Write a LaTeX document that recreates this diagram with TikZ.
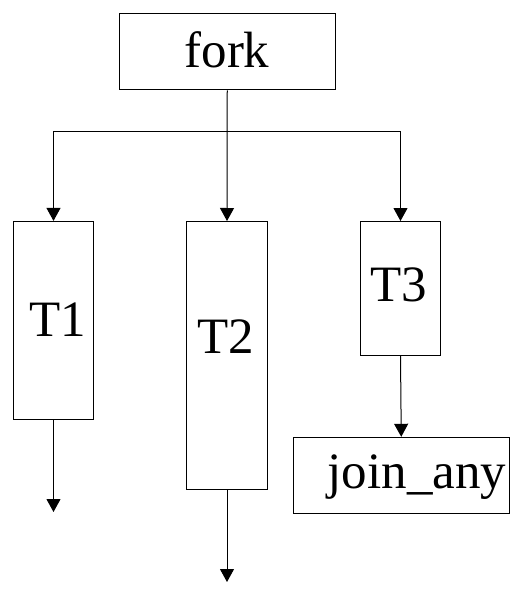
\documentclass[tikz,border=0pt]{standalone}
\usepackage{fontspec}
\setmainfont{Liberation Serif}
\usetikzlibrary{arrows.meta}
\begin{document}
\begin{tikzpicture}[x=1pt,y=-1pt,
  box/.style={draw, line width=1pt, inner sep=0pt, minimum width=#1},
  lbl/.style={anchor=base, inner sep=0pt, font=\fontsize{51}{60}\selectfont},
  conn/.style={line width=1pt},
  arr/.style={line width=1pt, -{Triangle[length=13pt,width=14pt]}}]
\useasboundingbox (0,0) rectangle (522,591);
% boxes
\node[box=215.5pt, minimum height=76.5pt] (fork) at (227.25,51.75) {};
\node[box=80pt, minimum height=198pt] (T1) at (53.5,320.4) {};
\node[box=81pt, minimum height=267.5pt] (T2) at (227,355.25) {};
\node[box=80pt, minimum height=133.8pt] (T3) at (400.5,288.4) {};
\node[box=216.5pt, minimum height=76pt] (join) at (401.25,475.3) {};
% labels
\node[lbl] (forkt) at (227,67.7) {fork};
\node[lbl] (T1t) at (58,336) {T1};
\node[lbl] (T2t) at (225.7,353.3) {T2};
\node[lbl] (T3t) at (399,301.7) {T3};
\node[lbl] (joint) at (417,488.3) {join\_any};
% connectors
\coordinate (split) at (227.25,131.5);
\coordinate (end1) at (53.5,512);
\coordinate (end2) at (227,582);
\draw[arr] (fork.south) -- (T2.north);
\draw[arr] (split) -| (T1.north);
\draw[arr] (split) -| (T3.north);
\draw[arr] (T1.south) -- (end1);
\draw[arr] (T2.south) -- (end2);
\draw[arr] (T3.south) -- (join.north);
\end{tikzpicture}
\end{document}
